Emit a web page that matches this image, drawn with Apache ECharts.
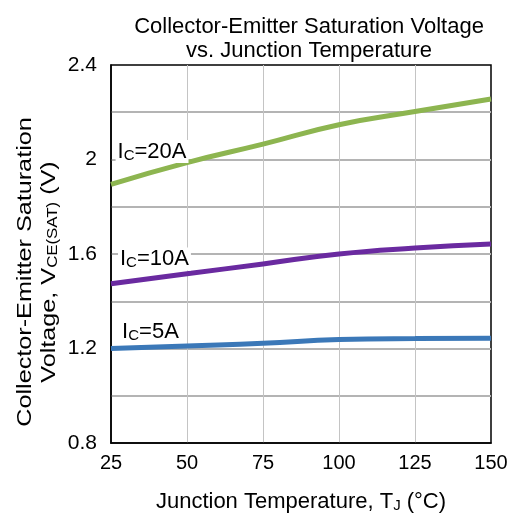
<!DOCTYPE html>
<html>
<head>
<meta charset="utf-8">
<script src="https://cdn.jsdelivr.net/npm/echarts@6/dist/echarts.min.js"></script>
<style>
  html, body { margin: 0; padding: 0; background: #fff; }
  #main { width: 512px; height: 518px; }
</style>
</head>
<body>
<div id="main"></div>
<script>
  var myChart = echarts.init(document.getElementById('main'));

  // 结温 (°C)
  let temps = [25, 50, 75, 100, 125, 150];
  // VCE(SAT) 读数
  let v20A = [1.895, 1.987, 2.065, 2.147, 2.203, 2.256];
  let v10A = [1.474, 1.516, 1.558, 1.600, 1.625, 1.642];
  let v5A = [1.200, 1.211, 1.222, 1.238, 1.242, 1.243];
  let seriesNames = ['IC=20A', 'IC=10A', 'IC=5A'];
  let labelAt = [[26.5, 2.034], [27.3, 1.579], [28.0, 1.272]];
  let labelCurrent = ['20A', '10A', '5A'];
  let colors = ['#8db550', '#6a2aa0', '#3b78b8'];

  let font = 'Liberation Sans, Arial, sans-serif';
  let richLabel = {
    b: { fontSize: 22, fontFamily: font, color: '#000' },
    s: { fontSize: 15, fontFamily: font, color: '#000', padding: [8, 0, 0, 0] }
  };

  function makeSeries(i, vals) {
    return {
      name: seriesNames[i],
      type: 'line',
      smooth: true,
      symbol: 'none',
      lineStyle: { width: 5, color: colors[i] },
      data: temps.map((t, k) => [t, vals[k]]),
      markPoint: {
        symbolSize: 0,
        data: [{ coord: labelAt[i] }],
        label: {
          show: true,
          position: 'right',
          distance: 0,
          backgroundColor: '#fff',
          padding: [0, 2, 0, 2],
          formatter: '{b|I}{s|C}{b|=' + labelCurrent[i] + '}',
          rich: richLabel
        }
      }
    };
  }

  var option = {
    animation: false,
    title: {
      text: 'Collector-Emitter Saturation Voltage\nvs. Junction Temperature',
      left: 304,
      textAlign: 'center',
      top: 10,
      textStyle: { fontSize: 22, fontWeight: 'normal', fontFamily: font, color: '#000', lineHeight: 24 }
    },
    grid: {
      left: 111, right: 21, top: 65, bottom: 73,
      show: true, borderColor: '#000', borderWidth: 1.5, backgroundColor: 'transparent'
    },
    xAxis: {
      type: 'value',
      min: 25, max: 150, interval: 25,
      axisLine: { show: true, lineStyle: { color: '#000', width: 1.5 } },
      axisTick: { show: false },
      axisLabel: { fontSize: 20, fontFamily: font, color: '#000', margin: 10 },
      splitLine: { show: true, showMinLine: false, showMaxLine: false, lineStyle: { color: '#c4c4c4', width: 1 } },
      name: 'Junction Temperature, T{s|J} (°C)',
      nameLocation: 'middle',
      nameGap: 47,
      nameTextStyle: {
        fontSize: 22, fontFamily: font, color: '#000',
        rich: {
          s: { fontSize: 15, fontFamily: font, color: '#000', padding: [8, 0, 0, 0] }
        }
      }
    },
    yAxis: {
      type: 'value',
      min: 0.8, max: 2.4, interval: 0.2,
      axisLine: { show: true, lineStyle: { color: '#000', width: 1.5 } },
      axisTick: { show: false },
      axisLabel: {
        fontSize: 21, fontFamily: font, color: '#000', margin: 14,
        formatter: function (v) {
          let k = (v - 0.8) / 0.4;
          return Math.abs(k - Math.round(k)) < 1e-6 ? String(+v.toFixed(1)) : '';
        }
      },
      splitLine: { show: true, showMinLine: false, showMaxLine: false, lineStyle: { color: '#b4b4b4', width: 2 } }
    },
    graphic: [{
      type: 'text',
      x: 37, y: 272,
      rotation: Math.PI / 2,
      scaleX: 1.2,
      style: {
        text: '{b|Collector-Emitter Saturation}\n{b|Voltage, V}{s|CE(SAT)}{b| (V)}',
        rich: {
          b: { fontSize: 21, fontFamily: font, color: '#000', lineHeight: 24 },
          s: { fontSize: 14, fontFamily: font, color: '#000', padding: [8, 0, 0, 0], lineHeight: 24 }
        },
        align: 'center',
        verticalAlign: 'middle'
      }
    }],
    series: [makeSeries(0, v20A), makeSeries(1, v10A), makeSeries(2, v5A)]
  };

  myChart.setOption(option);
</script>
</body>
</html>
